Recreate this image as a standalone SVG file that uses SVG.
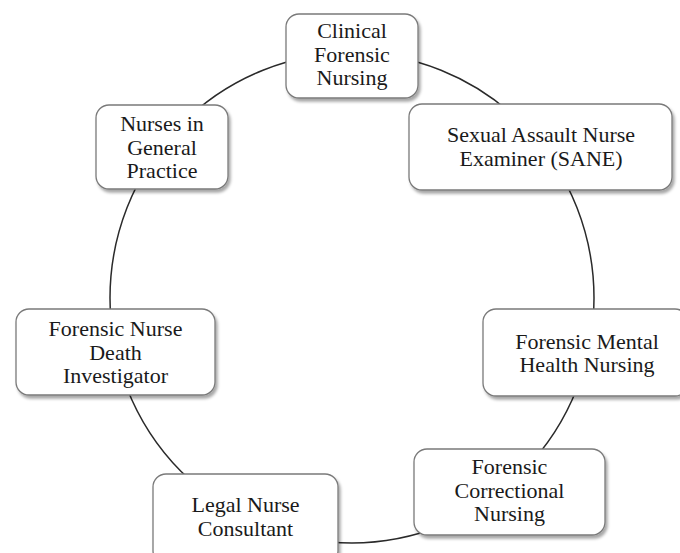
<svg xmlns="http://www.w3.org/2000/svg" width="680" height="553" viewBox="0 0 680 553">
<defs>
<filter id="sh" x="-10%" y="-10%" width="130%" height="140%">
<feDropShadow dx="2" dy="3" stdDeviation="1.6" flood-color="#000" flood-opacity="0.35"/>
</filter>
</defs>
<style>
.box{fill:#fff;stroke:#7a7a7a;stroke-width:1.3;filter:url(#sh)}
.t{font-family:"Liberation Serif","Times New Roman","DejaVu Serif",serif;font-size:22px;fill:#1a1a1a;text-anchor:middle}
.c{fill:none;stroke:#2a2a2a;stroke-width:1.5}
</style>
<rect width="680" height="553" fill="#fff"/>
<g id="connectors">
<ellipse class="c" cx="352" cy="298" rx="242" ry="245"/>
</g>
<g id="clinical">
<rect class="box" x="286" y="14" width="132" height="84" rx="13"/>
<text class="t" x="352" y="38">Clinical</text>
<text class="t" x="352" y="61.5">Forensic</text>
<text class="t" x="352" y="85">Nursing</text>
</g>
<g id="sane">
<rect class="box" x="409" y="104" width="263" height="86" rx="13"/>
<text class="t" x="541" y="142">Sexual Assault Nurse</text>
<text class="t" x="541" y="165.5">Examiner (SANE)</text>
</g>
<g id="general">
<rect class="box" x="96" y="105" width="132" height="84" rx="13"/>
<text class="t" x="162" y="131">Nurses in</text>
<text class="t" x="162" y="154.5">General</text>
<text class="t" x="162" y="178">Practice</text>
</g>
<g id="death">
<rect class="box" x="16" y="309" width="199" height="86" rx="13"/>
<text class="t" x="115.5" y="336">Forensic Nurse</text>
<text class="t" x="115.5" y="359.5">Death</text>
<text class="t" x="115.5" y="383">Investigator</text>
</g>
<g id="mental">
<rect class="box" x="483" y="309" width="205" height="87" rx="13"/>
<text class="t" x="587" y="348.5">Forensic Mental</text>
<text class="t" x="587" y="372">Health Nursing</text>
</g>
<g id="legal">
<rect class="box" x="153" y="474" width="185" height="90" rx="13"/>
<text class="t" x="245.5" y="512">Legal Nurse</text>
<text class="t" x="245.5" y="535.5">Consultant</text>
</g>
<g id="correctional">
<rect class="box" x="414" y="449" width="191" height="86" rx="13"/>
<text class="t" x="509.5" y="474">Forensic</text>
<text class="t" x="509.5" y="497.5">Correctional</text>
<text class="t" x="509.5" y="521">Nursing</text>
</g>
</svg>
